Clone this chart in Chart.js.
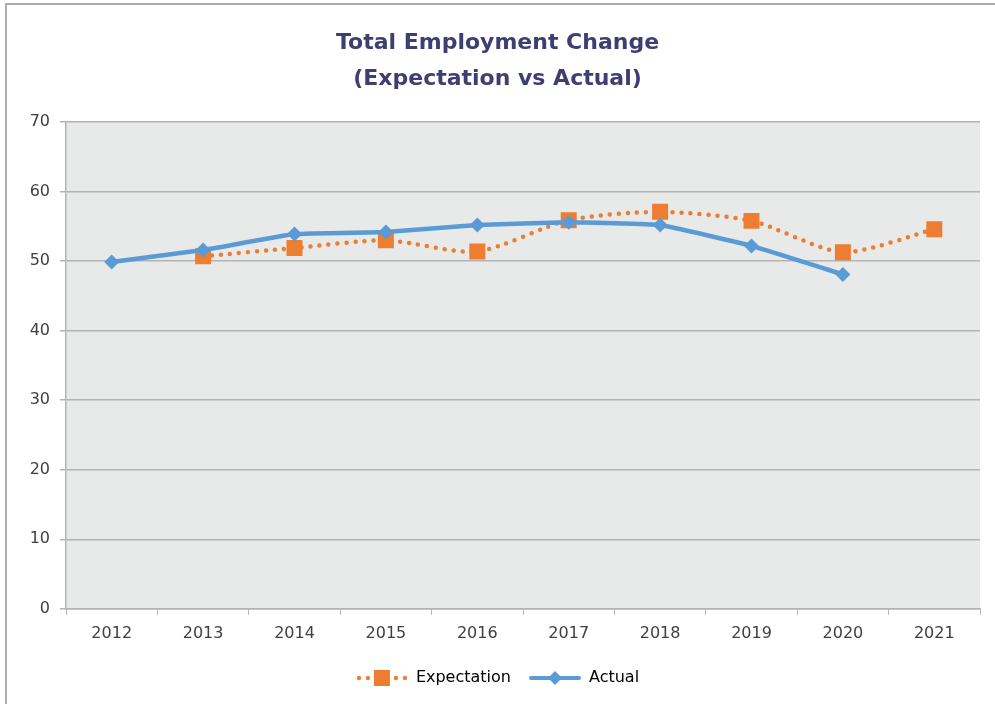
<!DOCTYPE html>
<html>
<head>
<meta charset="utf-8">
<script src="https://cdn.jsdelivr.net/npm/chart.js@4"></script>
<style>
  html, body { margin: 0; padding: 0; background: #fff; overflow: hidden; }
  #frame {
    position: absolute; left: 5px; top: 3px; width: 1010px; height: 720px;
    border-top: 2px solid #adadad; border-left: 2px solid #adadad;
  }
  #wrap { position: absolute; left: 0; top: 0; width: 995px; height: 704px; }
</style>
</head>
<body>
<div id="frame"></div>
<div id="wrap"><canvas id="chart"></canvas></div>
<script>
"use strict";

const years = ['2012', '2013', '2014', '2015', '2016', '2017', '2018', '2019', '2020', '2021'];
const expectation = [null, 50.7, 51.9, 53.0, 51.4, 55.9, 57.1, 55.8, 51.3, 54.6];
const actual = [49.9, 51.6, 53.9, 54.2, 55.2, 55.6, 55.2, 52.2, 48.1, null];

const ORANGE = '#ED7D31';
const BLUE = '#5B9BD5';
const TEXT = '#404040';
const GRID = '#b3b3b3';

// legend swatches: line + marker, like the office legend
function swatch(kind) {
  const c = document.createElement('canvas');
  c.width = 52;
  c.height = 18;
  const g = c.getContext('2d');
  if (kind === 'exp') {
    g.fillStyle = ORANGE;
    for (const x of [3, 12, 40, 49]) {
      g.beginPath();
      g.arc(x, 9, 2.2, 0, Math.PI * 2);
      g.fill();
    }
    g.fillRect(18, 1, 16, 16);
  } else {
    g.strokeStyle = BLUE;
    g.lineWidth = 4;
    g.lineCap = 'round';
    g.beginPath();
    g.moveTo(2, 9);
    g.lineTo(50, 9);
    g.stroke();
    g.fillStyle = BLUE;
    g.beginPath();
    g.moveTo(26, 2);
    g.lineTo(33, 9);
    g.lineTo(26, 16);
    g.lineTo(19, 9);
    g.closePath();
    g.fill();
  }
  return c;
}

const plotBg = {
  id: 'plotBg',
  beforeDraw(chart) {
    const { ctx, chartArea: a } = chart;
    ctx.save();
    ctx.fillStyle = '#e8e9e9';
    ctx.fillRect(a.left, a.top, a.right - a.left, a.bottom - a.top);
    ctx.restore();
  }
};

Chart.defaults.font.family = '"DejaVu Sans", sans-serif';
Chart.defaults.font.size = 16;
Chart.defaults.color = TEXT;

new Chart(document.getElementById('chart'), {
  type: 'line',
  data: {
    labels: years,
    datasets: [
      {
        label: 'Expectation',
        data: expectation,
        order: 1,
        borderColor: ORANGE,
        backgroundColor: ORANGE,
        borderWidth: 4.5,
        borderDash: [0, 9],
        borderCapStyle: 'round',
        tension: 0.25,
        pointStyle: 'rect',
        pointRadius: 11.3,
        pointBorderWidth: 0
      },
      {
        label: 'Actual',
        data: actual,
        order: 0,
        borderColor: BLUE,
        backgroundColor: BLUE,
        borderWidth: 4.5,
        tension: 0.1,
        pointStyle: 'rectRot',
        pointRadius: 7.5,
        pointBorderWidth: 0
      }
    ]
  },
  options: {
    responsive: true,
    maintainAspectRatio: false,
    animation: false,
    layout: { padding: { left: 0, right: 0, top: 0, bottom: 8 } },
    plugins: {
      title: {
        display: true,
        text: ['Total Employment Change', '(Expectation vs Actual)'],
        color: '#3d3f70',
        font: { size: 22, weight: 'bold', lineHeight: 1.64 },
        padding: { top: 25, bottom: 25 }
      },
      legend: {
        position: 'bottom',
        labels: {
          usePointStyle: true,
          pointStyleWidth: 52,
          padding: 18,
          color: TEXT,
          font: { size: 16 },
          generateLabels(chart) {
            return [
              { text: 'Expectation', pointStyle: swatch('exp'), fillStyle: ORANGE, strokeStyle: ORANGE, lineWidth: 0, datasetIndex: 0, hidden: false },
              { text: 'Actual', pointStyle: swatch('act'), fillStyle: BLUE, strokeStyle: BLUE, lineWidth: 0, datasetIndex: 1, hidden: false }
            ];
          }
        }
      },
      tooltip: { enabled: false }
    },
    scales: {
      x: {
        offset: true,
        grid: { offset: true, drawOnChartArea: false, color: GRID, tickLength: 6 },
        border: { color: GRID, width: 1.5 },
        ticks: { padding: 9, color: TEXT, maxRotation: 0 }
      },
      y: {
        min: 0,
        max: 70,
        grid: { color: GRID, lineWidth: 1.5, tickLength: 6 },
        border: { color: GRID, width: 1.5 },
        ticks: { stepSize: 10, padding: 10, color: TEXT },
        afterFit(scale) { scale.width = 66; }
      },
      // empty right-hand strip so the plot stops short of the edge
      yRight: {
        position: 'right',
        min: 0,
        max: 70,
        grid: { display: false },
        border: { display: false },
        ticks: { display: false },
        afterFit(scale) { scale.width = 15; }
      }
    }
  },
  plugins: [plotBg]
});
</script>
</body>
</html>
